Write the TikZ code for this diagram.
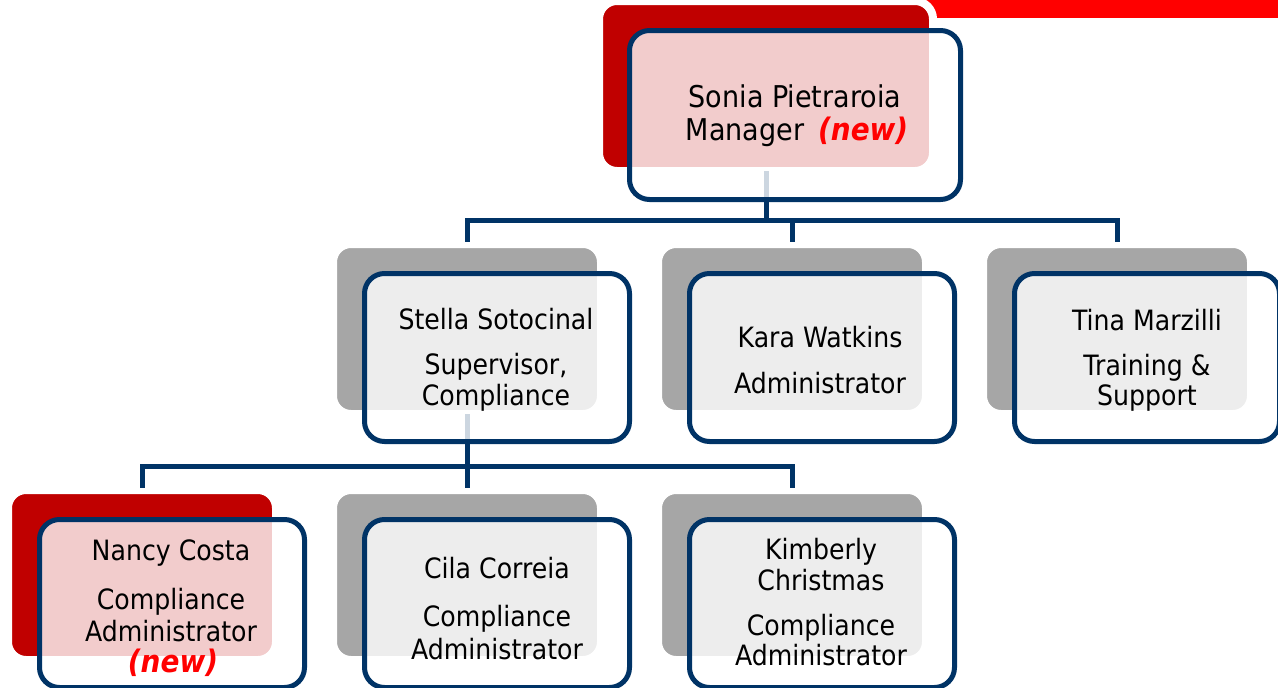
\documentclass[tikz,border=0pt]{standalone}
\usepackage{fontspec}
\setmainfont{DejaVu Sans}[FakeStretch=0.9]
\definecolor{navy}{HTML}{003366}
\definecolor{shred}{HTML}{C00000}
\definecolor{barred}{HTML}{FF0000}
\definecolor{shgray}{HTML}{A6A6A6}
\newcommand\mynewtag[1]{\textcolor{barred}{\fontsize{31}{33}\selectfont\bfseries\itshape #1}}
\begin{document}
\begin{tikzpicture}[x=1pt,y=-1pt,
  shadowbox/.style={rectangle, rounded corners=18pt, draw=white, line width=8pt,
    outer sep=0pt, inner sep=0pt, minimum width=268pt, minimum height=170pt},
  redsh/.style={shadowbox, fill=shred},
  graysh/.style={shadowbox, fill=shgray},
  card/.style={rectangle, rounded corners=20pt, draw=navy, line width=5pt,
    fill=white, fill opacity=0.8, outer sep=0pt, inner sep=0pt,
    minimum width=265pt, minimum height=168pt},
  link/.style={draw=navy, line width=5pt},
  txt/.style={anchor=base, inner sep=0pt, font=\fontsize{28}{33}\selectfont, text=black},
  bigtxt/.style={txt, font=\fontsize{30}{33}\selectfont}]
\useasboundingbox (0,0) rectangle (1278,688);
% top red bar
\fill[barred] (900,0) rectangle (1278,18);
% shadow boxes
\node[redsh, minimum width=334pt] (soniash) at (766,86) {};
\node[graysh] (stellash) at (467,329) {};
\node[graysh] (karash) at (792,329) {};
\node[graysh] (tinash) at (1117,329) {};
\node[redsh] (nancysh) at (142,575) {};
\node[graysh] (cilash) at (467,575) {};
\node[graysh] (kimsh) at (792,575) {};
% connectors
\draw[link] (soniash.south) -- ++(0,49) coordinate (bus1);
\draw[link, shorten >=2pt] (bus1) -| (stellash.north);
\draw[link, shorten >=2pt] (bus1) -| (karash.north);
\draw[link, shorten >=2pt] (bus1) -| (tinash.north);
\draw[link] (stellash.south) -- ++(0,52) coordinate (bus2);
\draw[link, shorten >=2pt] (bus2) -| (nancysh.north);
\draw[link, shorten >=2pt] (bus2) -| (cilash.north);
\draw[link, shorten >=2pt] (bus2) -| (kimsh.north);
% cards
\node[card, minimum width=331pt, minimum height=169pt] (sonia) at (795,115) {};
\node[card] (stella) at (497,357.5) {};
\node[card] (kara) at (822,357.5) {};
\node[card] (tina) at (1147,357.5) {};
\node[card] (nancy) at (172,603.5) {};
\node[card] (cila) at (497,603.5) {};
\node[card] (kim) at (822,603.5) {};
% texts
\node[bigtxt] (sonia1) at (795,107) {Sonia Pietraroia};
\node[bigtxt] (sonia2) at (797,140) {Manager\hspace{14pt}\mynewtag{(new)}};
\node[txt] (stella1) at (496,329) {Stella Sotocinal};
\node[txt] (stella2) at (496,374) {Supervisor,};
\node[txt] (stella3) at (496,405) {Compliance};
\node[txt] (kara1) at (820,347) {Kara Watkins};
\node[txt] (kara2) at (820,393) {Administrator};
\node[txt] (tina1) at (1147,330) {Tina Marzilli};
\node[txt] (tina2) at (1147,375) {Training \&};
\node[txt] (tina3) at (1147,405) {Support};
\node[txt] (nancy1) at (171,560) {Nancy Costa};
\node[txt] (nancy2) at (171,609) {Compliance};
\node[txt] (nancy3) at (171,641) {Administrator};
\node[txt] (nancy4) at (173,672) {\mynewtag{(new)}};
\node[txt] (cila1) at (497,578) {Cila Correia};
\node[txt] (cila2) at (497,626) {Compliance};
\node[txt] (cila3) at (497,659) {Administrator};
\node[txt] (kim1) at (821,559) {Kimberly};
\node[txt] (kim2) at (821,590) {Christmas};
\node[txt] (kim3) at (821,635) {Compliance};
\node[txt] (kim4) at (821,665) {Administrator};
\end{tikzpicture}
\end{document}
